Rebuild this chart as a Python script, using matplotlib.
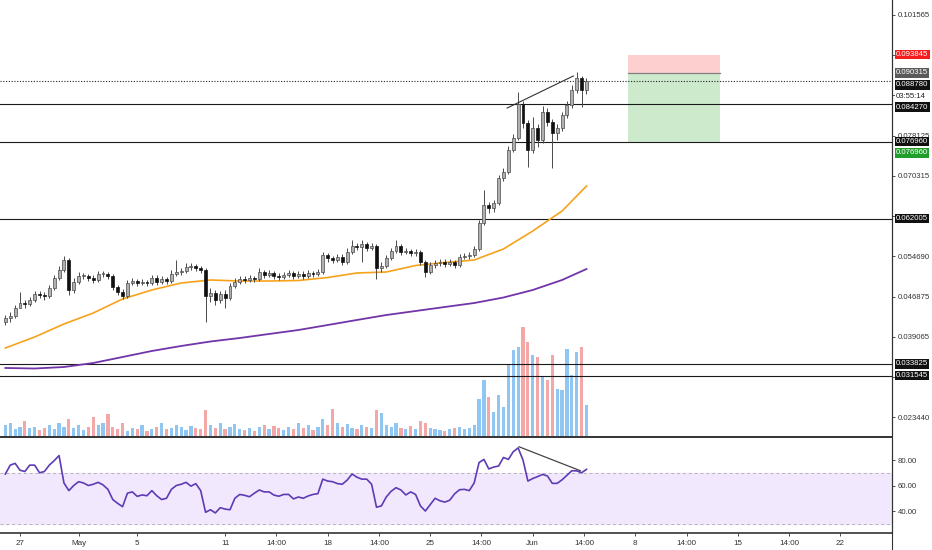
import numpy as np
import pandas as pd
import matplotlib
matplotlib.use('Agg')
import matplotlib.pyplot as plt
import matplotlib.dates as mdates
from matplotlib.patches import Rectangle
from matplotlib.lines import Line2D

plt.rcParams['font.family'] = ['Liberation Sans', 'DejaVu Sans']

# 8h candles starting 26 Apr 2020
dates = pd.date_range('2020-04-26 00:00', periods=120, freq='8h')

first_open = 0.04198
closes = [0.04275, 0.04314, 0.04469, 0.04567, 0.04547, 0.04625, 0.04741, 0.04722, 0.04702, 0.04858,
          0.05052, 0.05207, 0.05401, 0.04819, 0.04974, 0.05091, 0.05091, 0.05052, 0.05013, 0.05130,
          0.05130, 0.05091, 0.04877, 0.04780, 0.04702, 0.04955, 0.04994, 0.04955, 0.04974, 0.04955,
          0.05052, 0.04974, 0.05032, 0.04994, 0.05130, 0.05168, 0.05188, 0.05265, 0.05285, 0.05246,
          0.05207, 0.04702, 0.04761, 0.04625, 0.04741, 0.04664, 0.04897, 0.04974, 0.05032, 0.05013,
          0.05052, 0.05032, 0.05168, 0.05110, 0.05149, 0.05091, 0.05071, 0.05110, 0.05149, 0.05091,
          0.05130, 0.05091, 0.05149, 0.05130, 0.05168, 0.05498, 0.05440, 0.05401, 0.05459, 0.05362,
          0.05556, 0.05672, 0.05653, 0.05711, 0.05634, 0.05672, 0.05246, 0.05285, 0.05440, 0.05576,
          0.05672, 0.05556, 0.05576, 0.05537, 0.05556, 0.05362, 0.05168, 0.05304, 0.05343, 0.05362,
          0.05323, 0.05362, 0.05304, 0.05459, 0.05479, 0.05498, 0.05615, 0.06119, 0.06469, 0.06410,
          0.06507, 0.06993, 0.07109, 0.07536, 0.07769, 0.08429, 0.08060, 0.07536, 0.07963, 0.07730,
          0.08274, 0.08080, 0.07866, 0.07963, 0.08215, 0.08409, 0.08701, 0.08934, 0.08701, 0.08878]
highs = [0.04333, 0.04392, 0.04528, 0.04780, 0.04625, 0.04683, 0.04799, 0.04799, 0.04780, 0.04916,
         0.05110, 0.05285, 0.05479, 0.05440, 0.05052, 0.05168, 0.05149, 0.05129, 0.05110, 0.05187,
         0.05187, 0.05168, 0.05129, 0.04916, 0.04838, 0.05013, 0.05052, 0.05032, 0.05032, 0.05013,
         0.05110, 0.05110, 0.05090, 0.05071, 0.05207, 0.05401, 0.05246, 0.05343, 0.05343, 0.05323,
         0.05285, 0.05246, 0.04858, 0.04819, 0.04799, 0.04819, 0.04955, 0.05052, 0.05090, 0.05090,
         0.05110, 0.05090, 0.05246, 0.05207, 0.05207, 0.05187, 0.05149, 0.05168, 0.05207, 0.05187,
         0.05187, 0.05187, 0.05207, 0.05187, 0.05226, 0.05556, 0.05537, 0.05479, 0.05518, 0.05518,
         0.05634, 0.05789, 0.05731, 0.05789, 0.05750, 0.05731, 0.05712, 0.05362, 0.05498, 0.05634,
         0.05789, 0.05712, 0.05634, 0.05615, 0.05615, 0.05595, 0.05401, 0.05362, 0.05401, 0.05420,
         0.05420, 0.05420, 0.05401, 0.05518, 0.05537, 0.05556, 0.05673, 0.06177, 0.06760, 0.06527,
         0.06566, 0.07051, 0.07187, 0.07614, 0.07847, 0.08662, 0.08487, 0.08118, 0.08177, 0.08041,
         0.08390, 0.08351, 0.08138, 0.08041, 0.08274, 0.08487, 0.08798, 0.09050, 0.08972, 0.08934]
lows = [0.04139, 0.04198, 0.04275, 0.04508, 0.04469, 0.04508, 0.04586, 0.04663, 0.04625, 0.04663,
        0.04819, 0.05013, 0.05168, 0.04722, 0.04760, 0.04935, 0.05032, 0.04993, 0.04955, 0.04974,
        0.05071, 0.05032, 0.04819, 0.04722, 0.04644, 0.04663, 0.04916, 0.04896, 0.04916, 0.04896,
        0.04916, 0.04916, 0.04935, 0.04935, 0.04955, 0.05090, 0.05110, 0.05149, 0.05207, 0.05187,
        0.05149, 0.04198, 0.04586, 0.04528, 0.04566, 0.04469, 0.04625, 0.04858, 0.04935, 0.04955,
        0.04974, 0.04974, 0.04993, 0.05052, 0.05071, 0.05032, 0.05013, 0.05032, 0.05071, 0.05032,
        0.05052, 0.05032, 0.05052, 0.05071, 0.05090, 0.05129, 0.05362, 0.05343, 0.05362, 0.05304,
        0.05323, 0.05518, 0.05595, 0.05362, 0.05576, 0.05595, 0.05032, 0.05168, 0.05246, 0.05401,
        0.05537, 0.05498, 0.05518, 0.05479, 0.05479, 0.05304, 0.05071, 0.05129, 0.05246, 0.05285,
        0.05265, 0.05285, 0.05246, 0.05265, 0.05420, 0.05420, 0.05459, 0.05576, 0.06080, 0.06313,
        0.06333, 0.06469, 0.06934, 0.07070, 0.07497, 0.07730, 0.07963, 0.07206, 0.07478, 0.07594,
        0.07672, 0.08002, 0.07187, 0.07730, 0.07905, 0.08157, 0.08351, 0.08643, 0.08371, 0.08623]
# volume in thousands
volumes = [12, 14, 8, 10, 16, 9, 10, 7, 9, 12, 8, 14, 10, 18, 9, 12, 7, 10, 20, 12, 14,
           23, 10, 8, 14, 6, 9, 8, 12, 6, 8, 10, 14, 8, 9, 12, 10, 7, 11, 9, 8,
           27, 12, 9, 14, 8, 10, 13, 8, 7, 9, 6, 10, 12, 8, 11, 9, 7, 10, 8, 14, 9, 12, 7, 10,
           18, 12, 28, 14, 10, 13, 9, 8, 12, 10, 9, 27, 24, 12, 10, 14, 9, 8, 11, 8, 16, 14,
           9, 8, 7, 6, 8, 9, 10, 8, 9,
           12, 38, 57, 40, 25, 42, 30, 72, 87, 90, 110, 95, 82, 80, 60, 57, 82, 48, 47, 88,
           62, 85, 90, 32]
rsi = [69, 76, 77.4, 72, 71, 76, 76, 70, 71, 76, 79.5, 83.5, 62, 56, 60, 63, 62, 60, 61, 62.5,
       60.5, 57, 49, 46, 43.4, 54, 55, 51.5, 52.6, 52, 56, 52, 49, 50, 57, 60, 61, 62.5, 59.5, 61.5,
       56, 39, 41, 38.5, 42.6, 41.5, 41, 50, 53, 52.3, 51.2, 54, 56.5, 55, 55, 52.5, 51.6, 53, 53, 49.5,
       51, 50, 51.8, 53, 53.6, 65, 63.5, 63, 61.5, 61, 64.3, 69, 66.5, 65, 65, 61, 43, 44, 51, 55.5,
       58.3, 56.5, 52.6, 55, 53, 44, 40, 45, 50, 48, 47, 48.5, 53.5, 56.7, 57, 56, 62, 78, 80.5, 73,
       74.5, 75.3, 82, 80.5, 86.5, 89.5, 80, 63.5, 65.5, 67, 68.7, 67.5, 61.7, 61.7, 64.5, 68, 71.6, 71.5, 70, 72.7]

# moving averages sampled every 2 days
ma_index = [0, 6, 12, 18, 24, 30, 36, 42, 48, 54, 60, 66, 72, 78, 84, 90, 96, 102, 108, 114, 119]
ma_fast = [0.03693, 0.03906, 0.04159, 0.04372, 0.04644, 0.04819, 0.04955, 0.05013, 0.04993, 0.04993,
           0.05003, 0.05061, 0.05149, 0.05168, 0.05294, 0.05353, 0.05401, 0.05615, 0.05964, 0.06352, 0.06837]
ma_slow = [0.03305, 0.03295, 0.03324, 0.03402, 0.03518, 0.03635, 0.03732, 0.03819, 0.03887, 0.03965,
           0.04042, 0.04139, 0.04237, 0.04333, 0.04411, 0.04489, 0.04566, 0.04673, 0.04819, 0.05013, 0.05226]

levels = [0.084270, 0.076960, 0.062005, 0.033825, 0.031545]
last_price = 0.088780
entry, stop, target = 0.090315, 0.093845, 0.076960
pos_start, pos_end = '2020-06-07 12:00', '2020-06-13 19:00'
trend_price = (['2020-05-30 06:00', '2020-06-03 18:30'], [0.08351, 0.08973])
trend_rsi = (['2020-05-31 01:30', '2020-06-04 06:00'], [90.4, 71.6])

price_ticks = [0.023440, 0.031250, 0.039065, 0.046875, 0.054690, 0.062500,
               0.070315, 0.078125, 0.085940, 0.093750, 0.101565]
# tick labels hidden behind the price tags are left blank
price_tick_labels = ['0.023440', '', '0.039065', '0.046875', '0.054690', '',
                     '0.070315', '0.078125', '', '', '0.101565']
rsi_ticks = [40, 60, 80]
tick_dates = ['2020-04-27', '2020-05-01', '2020-05-05', '2020-05-11', '2020-05-14 12:00',
              '2020-05-18', '2020-05-21 12:00', '2020-05-25', '2020-05-28 12:00', '2020-06-01',
              '2020-06-04 12:00', '2020-06-08', '2020-06-11 12:00', '2020-06-15',
              '2020-06-18 12:00', '2020-06-22']
tick_labels = ['27', 'May', '5', '11', '14:00', '18', '14:00', '25', '14:00', 'Jun',
               '14:00', '8', '14:00', '15', '14:00', '22']

def dnum(s):
    return mdates.date2num(pd.to_datetime(s))

x = mdates.date2num(dates.to_pydatetime())
c = np.array(closes)
o = np.array([first_open] + closes[:-1])
h = np.array(highs)
l = np.array(lows)
up = c >= o

fig = plt.figure(figsize=(9.32, 5.5), dpi=100)
W, H = 932, 550
ax = fig.add_axes([0, (H - 437) / H, 892 / W, 437 / H])
axr = fig.add_axes([0, (H - 533) / H, 892 / W, 94 / H], sharex=ax)

# volume overlay
axv = ax.twinx()
vcol = np.where(up, '#90c6f2', '#f3a7a7')
axv.bar(x, volumes, width=0.22, color=vcol, zorder=1)
axv.set_ylim(0, max(volumes) * 3.97)
axv.set_yticks([])
for s in axv.spines.values():
    s.set_visible(False)
ax.set_zorder(axv.get_zorder() + 1)
ax.patch.set_visible(False)

# position box
x0, x1 = dnum(pos_start), dnum(pos_end)
ax.add_patch(Rectangle((x0, entry), x1 - x0, stop - entry, fc='#fdcfcf', ec='none', zorder=0))
ax.add_patch(Rectangle((x0, target), x1 - x0, entry - target, fc='#cdeacd', ec='none', zorder=0))
ax.plot([x0, x1], [entry, entry], color='#808080', lw=0.9, zorder=0.5)

for lv in levels:
    ax.axhline(lv, color='#1a1a1a', lw=0.8, zorder=1)
ax.axhline(last_price, color='#222222', lw=0.8, ls=(0, (1, 1.5)), zorder=1)

# moving averages
ax.plot(x[ma_index], ma_fast, color='#f7a21b', lw=1.2, zorder=2)
ax.plot(x[ma_index], ma_slow, color='#7135a8', lw=1.3, zorder=2)

# candles
ax.vlines(x, l, h, color='#4a4a4a', lw=0.7, zorder=3)
body = np.maximum(np.abs(c - o), 0.00012)
bot = np.minimum(o, c)
ax.bar(x[up], body[up], bottom=bot[up], width=0.2, color='#b0b0b0',
       edgecolor='#4a4a4a', lw=0.5, zorder=4)
ax.bar(x[~up], body[~up], bottom=bot[~up], width=0.2, color='#111111',
       edgecolor='#111111', lw=0.5, zorder=4)

ax.plot([dnum(d) for d in trend_price[0]], trend_price[1], color='#333333', lw=0.8, zorder=5)

ax.set_xlim(dnum('2020-04-27') - 1.365, dnum('2020-04-27') + 59.52)
ax.set_ylim(0.019654, 0.104476)

ax.yaxis.tick_right()
ax.set_yticks(price_ticks)
ax.set_yticklabels(price_tick_labels)
ax.tick_params(axis='y', labelsize=5.6, length=2.5, pad=1.5, colors='#333333', width=0.6)
ax.tick_params(axis='x', bottom=False, labelbottom=False)
for k in ['top', 'left']:
    ax.spines[k].set_visible(False)
ax.spines['right'].set_color('#333333')
ax.spines['bottom'].set_color('#333333')
ax.spines['bottom'].set_linewidth(1.4)

# right-side price labels
def tag(price, text, fc, tc='white', dy=0):
    ax.annotate(text, xy=(1, price), xycoords=ax.get_yaxis_transform(),
                xytext=(3, dy), textcoords='offset points', ha='left', va='center',
                fontsize=5.6, color=tc, annotation_clip=False, zorder=10,
                bbox=dict(boxstyle='square,pad=0.15', fc=fc, ec='none'))

tag(stop, '%.6f' % stop, '#f41c1c')
tag(entry, '%.6f' % entry, '#5a5a5a')
tag(last_price, '%.6f' % last_price, '#111111', dy=-2.9)
tag(last_price, '03:55:14', 'white', tc='#222222', dy=-11.5)
tag(levels[0], '%.6f' % levels[0], '#111111', dy=-2.1)
tag(levels[1], '%.6f' % levels[1], '#111111')
tag(target, '%.6f' % target, '#1f9e2a', dy=-8)
tag(levels[2], '%.6f' % levels[2], '#111111')
tag(levels[3], '%.6f' % levels[3], '#111111')
tag(levels[4], '%.6f' % levels[4], '#111111')

# RSI panel
axr.axhspan(30, 70, color='#f2e8fd', zorder=0)
axr.axhline(70, color='#b4b4b4', lw=0.7, ls=(0, (3, 3)))
axr.axhline(30, color='#b4b4b4', lw=0.7, ls=(0, (3, 3)))
axr.plot(x, rsi, color='#5e3bb5', lw=1.2, zorder=3)
axr.plot([dnum(d) for d in trend_rsi[0]], trend_rsi[1], color='#444444', lw=0.9, zorder=4)
axr.set_ylim(22.75, 96.5)
axr.yaxis.tick_right()
axr.set_yticks(rsi_ticks)
axr.set_yticklabels(['%.2f' % t for t in rsi_ticks])
axr.tick_params(axis='y', labelsize=5.6, length=2.5, pad=1.5, colors='#333333', width=0.6)
axr.set_xticks([dnum(d) for d in tick_dates])
axr.set_xticklabels(tick_labels)
axr.tick_params(axis='x', labelsize=5.8, length=2.5, pad=2.5, colors='#333333', width=0.6)
for k in ['top', 'left']:
    axr.spines[k].set_visible(False)
axr.spines['right'].set_color('#333333')
axr.spines['bottom'].set_color('#333333')
axr.spines['bottom'].set_linewidth(1.2)

fig.add_artist(Line2D([892 / W, 892 / W], [0, 1], color='#333333', lw=0.8))

fig.savefig('out.png', dpi=100)
